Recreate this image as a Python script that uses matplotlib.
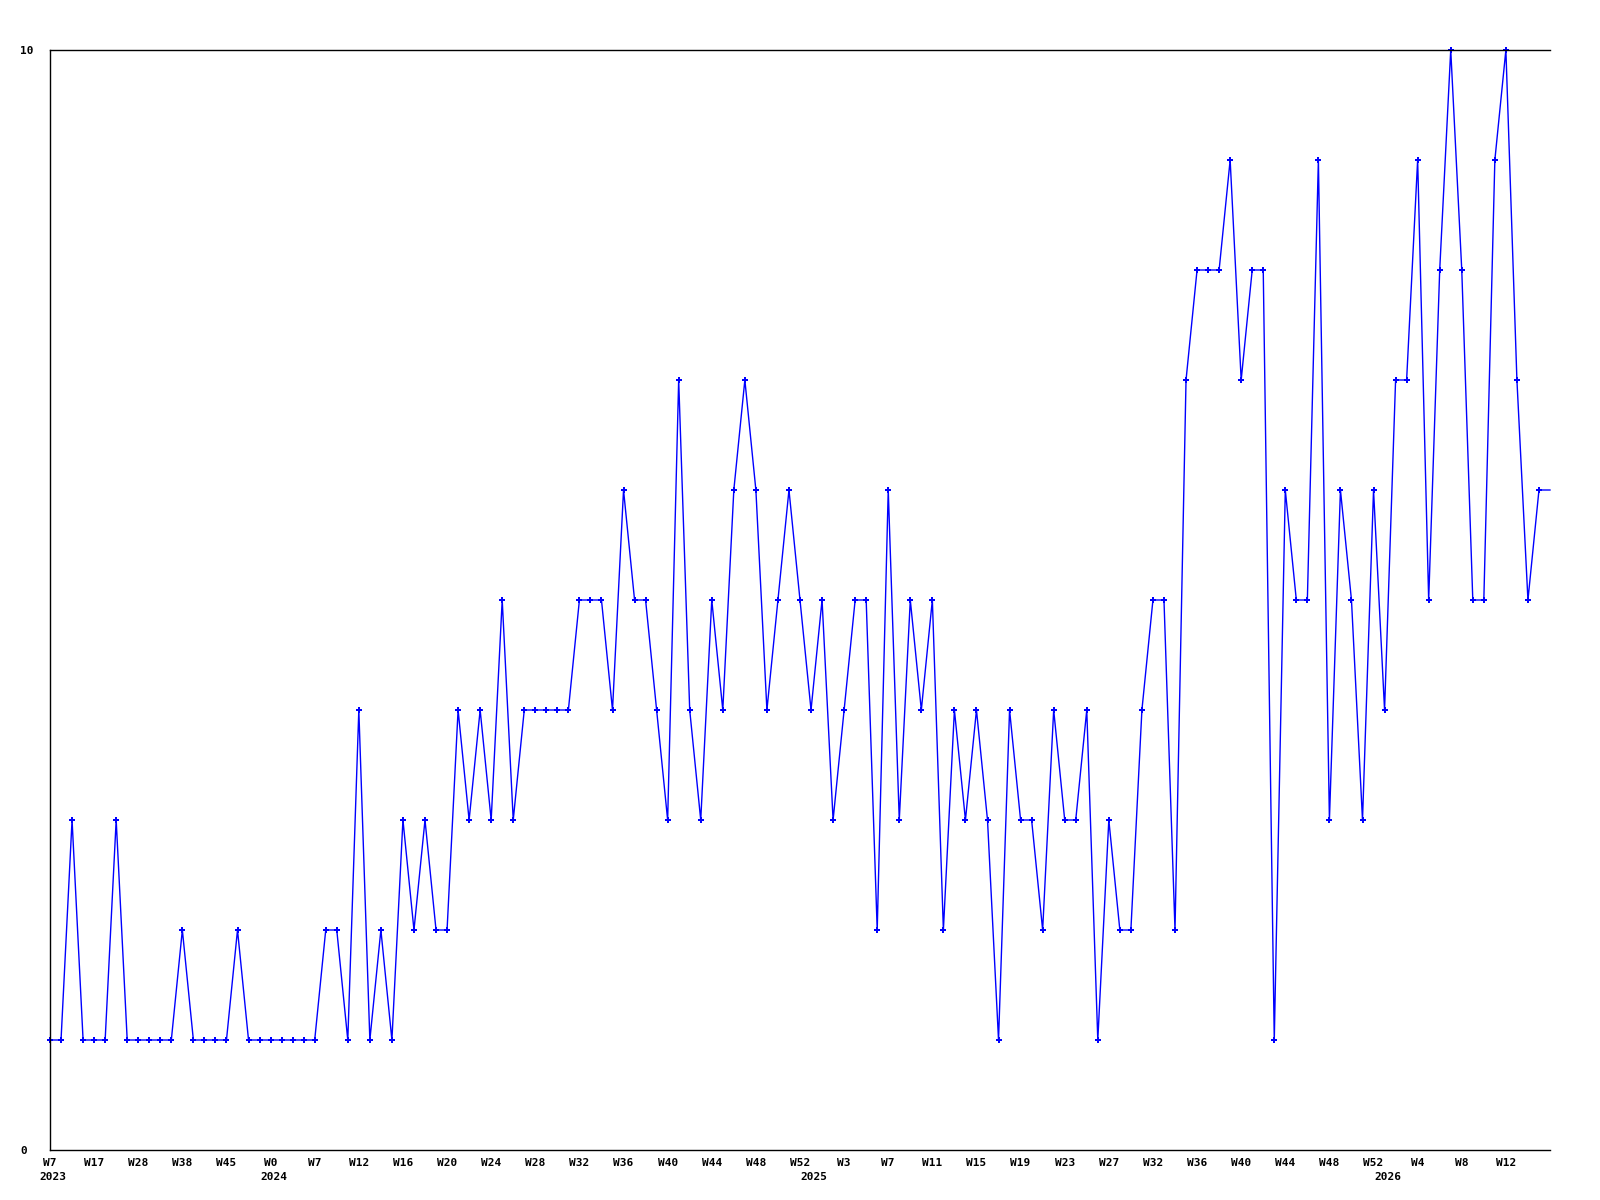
import matplotlib
matplotlib.use("Agg")
import matplotlib.pyplot as plt

values = [1, 1, 3, 1, 1, 1, 3, 1, 1, 1,
          1, 1, 2, 1, 1, 1, 1, 2, 1, 1,
          1, 1, 1, 1, 1, 2, 2, 1, 4, 1,
          2, 1, 3, 2, 3, 2, 2, 4, 3, 4,
          3, 5, 3, 4, 4, 4, 4, 4, 5, 5,
          5, 4, 6, 5, 5, 4, 3, 7, 4, 3,
          5, 4, 6, 7, 6, 4, 5, 6, 5, 4,
          5, 3, 4, 5, 5, 2, 6, 3, 5, 4,
          5, 2, 4, 3, 4, 3, 1, 4, 3, 3,
          2, 4, 3, 3, 4, 1, 3, 2, 2, 4,
          5, 5, 2, 7, 8, 8, 8, 9, 7, 8,
          8, 1, 6, 5, 5, 9, 3, 6, 5, 3,
          6, 4, 7, 7, 9, 5, 8, 10, 8, 5,
          5, 9, 10, 7, 5, 6, 6]

tick_labels = ["W7", "W17", "W28", "W38", "W45", "W0", "W7", "W12", "W16",
               "W20", "W24", "W28", "W32", "W36", "W40", "W44", "W48", "W52",
               "W3", "W7", "W11", "W15", "W19", "W23", "W27", "W32", "W36",
               "W40", "W44", "W48", "W52", "W4", "W8", "W12"]
tick_step = 4

year_labels = ["2023", "2024", "2025", "2026"]
year_index = [0, 20, 69, 121]

y_ticks = [0, 10]

font = dict(family="DejaVu Sans Mono", weight="bold", size=8)

fig = plt.figure(figsize=(16, 12), dpi=100)
ax = fig.add_axes([50 / 1600, 50 / 1200, 1500 / 1600, 1100 / 1200])

x = list(range(len(values)))
ax.plot(x, values, color="#0000ff", linewidth=1.0, marker="P", markersize=5,
        markeredgewidth=0, markevery=slice(0, len(values) - 1), clip_on=False)

ax.set_xlim(0, len(values) - 1)
ax.set_ylim(0, 10)

for s in ["left", "top", "bottom"]:
    ax.spines[s].set_linewidth(1.0)
    ax.spines[s].set_color("black")
ax.spines["right"].set_visible(False)

ax.set_xticks(list(range(0, len(tick_labels) * tick_step, tick_step)))
ax.set_xticklabels(tick_labels, **font)
ax.tick_params(axis="x", length=0, pad=6)

ax.set_yticks(y_ticks)
ax.set_yticklabels([str(v) for v in y_ticks], **font)
ax.tick_params(axis="y", length=0, pad=21.6)
for lbl in ax.get_yticklabels():
    lbl.set_horizontalalignment("left")

for yl, idx in zip(year_labels, year_index):
    ax.annotate(yl, xy=(idx, 0), xycoords=("data", "axes fraction"),
                xytext=(-10.5, -27), textcoords="offset pixels",
                ha="left", va="center", **font)

fig.savefig("out.png", dpi=100)
